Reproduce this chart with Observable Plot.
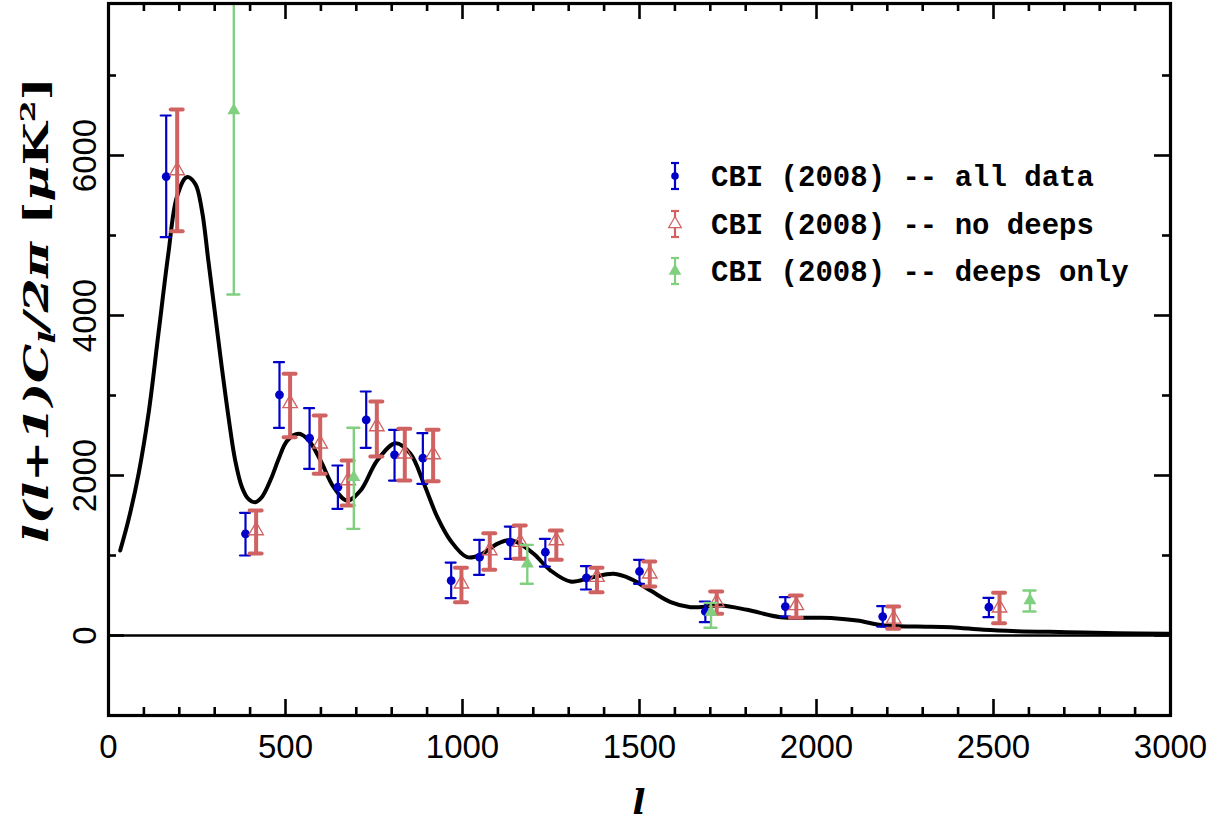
<!DOCTYPE html>
<html><head><meta charset="utf-8">
<script src="https://cdn.jsdelivr.net/npm/d3@7"></script>
<script src="https://cdn.jsdelivr.net/npm/@observablehq/plot@0.6"></script>
<style>body{margin:0;background:#fff;} #chart svg{display:block;}</style>
</head><body><div id="chart"></div>
<script>
// ---- data ----
const allL  = [163,387,483,568,648,728,808,888,968,1048,1135,1234,1350,1500,1686,1912,2187,2487];
const allV  = [5737,1271,3008,2467,1854,2696,2258,2217,687,979,1167,1042,721,800,300,362,237,354];
const allLo = [4979,1000,2596,2083,1583,2346,1937,1896,467,758,958,862,575,646,167,237,112,229];
const allHi = [6500,1534,3417,2842,2125,3050,2571,2529,912,1196,1362,1208,867,946,425,479,367,471];

const nodL  = [194,417,513,598,677,758,837,917,997,1077,1163,1265,1380,1529,1718,1943,2218,2517];
const nodV  = [5812,1312,2900,2396,1937,2612,2271,2262,646,1062,1167,1187,729,771,417,375,208,346];
const nodLo = [5054,1025,2479,2021,1625,2237,1937,1929,417,821,958,946,542,612,271,221,83,154];
const nodHi = [6575,1562,3271,2750,2187,2925,2583,2571,846,1279,1375,1312,846,925,550,500,362,533];

const deepL  = [354,693,1183,1702,2603];
const deepV  = [6562,1979,896,292,437];
const deepLo = [4262,1333,646,96,300];
const deepHi = [8862,2596,1133,408,562];

const curveL = [33,56,85,113,141,169,193,221,245,264,282,301,320,339,358,377,395,414,433,461,480,505,538,566,599,636,674,712,759,811,853,891,929,966,1013,1051,1098,1130,1154,1201,1249,1305,1362,1427,1475,1531,1588,1644,1729,1804,1898,1992,2049,2115,2190,2284,2379,2473,2567,2708,2849,2995];
const curveV = [1062,1437,2021,2771,3771,4771,5479,5729,5646,5312,4687,4021,3354,2729,2187,1854,1708,1667,1729,1979,2200,2437,2521,2437,2187,1854,1687,1812,2187,2404,2271,1896,1479,1187,979,1010,1146,1190,1167,1021,812,675,721,771,708,562,417,354,375,321,229,221,217,187,125,112,104,71,54,42,29,21];

const xTickLabels = [0,500,1000,1500,2000,2500,3000];
const yTickLabels = [0,2000,4000,6000];
const legendLabels = ["CBI (2008) -- all data","CBI (2008) -- no deeps","CBI (2008) -- deeps only"];

// ---- build ----
const build = (L,V,Lo,Hi) => L.map((l,i)=>({l, v:V[i], lo:Lo[i], hi:Hi[i]}));
const all = build(allL,allV,allLo,allHi);
const nod = build(nodL,nodV,nodLo,nodHi);
const deep = build(deepL,deepV,deepLo,deepHi);
const curve = curveL.map((l,i)=>({l, v:curveV[i]}));

const BLUE="#0000c8", RED="#d06262", GREEN="#80d080";
const W=1224, H=822, mL=108, mR=54, mT=3, mB=107;
const xDom=[0,3000], yDom=[-1000,7900];
const xPx=(xDom[1]-xDom[0])/(W-mL-mR), yPx=(yDom[1]-yDom[0])/(H-mT-mB);

const xMajor=d3.range(0,3001,500), xMinor=d3.range(0,3001,100).filter(d=>d%500);
const yMajor=d3.range(0,7901,2000);
const yMinor=d3.range(-1000,7901,1000).filter(d=>d%2000);

function ticks(){
  const m=[], sw=2.6;
  const tb=(arr,len)=>{
    m.push(Plot.ruleX(arr,{x:d=>d,y1:yDom[0],y2:yDom[0]+len*yPx,strokeWidth:sw}));
    m.push(Plot.ruleX(arr,{x:d=>d,y1:yDom[1],y2:yDom[1]-len*yPx,strokeWidth:sw}));
  };
  const lr=(arr,len)=>{
    m.push(Plot.ruleY(arr,{y:d=>d,x1:xDom[0],x2:xDom[0]+len*xPx,strokeWidth:sw}));
    m.push(Plot.ruleY(arr,{y:d=>d,x1:xDom[1],x2:xDom[1]-len*xPx,strokeWidth:sw}));
  };
  tb(xMajor,16); tb(xMinor,8); lr(yMajor,16); lr(yMinor,8);
  return m;
}
function errs(data,color,sw,cap){
  return [
    Plot.ruleX(data,{x:"l",y1:"lo",y2:"hi",stroke:color,strokeWidth:sw,clip:true}),
    Plot.ruleY(data,{y:"hi",x1:d=>d.l-cap*xPx,x2:d=>d.l+cap*xPx,stroke:color,strokeWidth:sw,strokeLinecap:"round",clip:true}),
    Plot.ruleY(data,{y:"lo",x1:d=>d.l-cap*xPx,x2:d=>d.l+cap*xPx,stroke:color,strokeWidth:sw,strokeLinecap:"round",clip:true})
  ];
}

const plot = Plot.plot({
  width:W, height:H, marginLeft:mL, marginRight:mR, marginTop:mT, marginBottom:mB,
  x:{domain:xDom, axis:null}, y:{domain:yDom, axis:null},
  style:{background:"white", fontFamily:"Liberation Sans"},
  marks:[
    Plot.ruleY([0],{stroke:"black",strokeWidth:2.6}),
    Plot.line(curve,{x:"l",y:"v",curve:"catmull-rom",stroke:"black",strokeWidth:4}),
    ...errs(all,BLUE,2.2,5),
    Plot.dot(all,{x:"l",y:"v",r:4.4,fill:BLUE,stroke:"none"}),
    ...errs(nod,RED,4,6),
    Plot.dot(nod,{x:"l",y:"v",symbol:"triangle",r:5.4,stroke:RED,strokeWidth:1.3,fill:"none"}),
    ...errs(deep,GREEN,2.4,6),
    Plot.dot(deep,{x:"l",y:"v",symbol:"triangle",r:4.8,fill:GREEN,stroke:"none",clip:true}),
    ...ticks(),
    Plot.frame({stroke:"black",strokeWidth:3.2}),
    Plot.text(xTickLabels,{x:d=>d,y:yDom[0],dy:32,text:d=>String(d),fontSize:33,fill:"black",lineAnchor:"middle"}),
    Plot.text(yTickLabels,{x:xDom[0],y:d=>d,dx:-23,rotate:-90,text:d=>String(d),fontSize:33,fill:"black",lineAnchor:"middle"})
  ]
});
document.getElementById("chart").appendChild(plot);

// ---- legend & axis titles ----
const svg = d3.select(plot);
const leg = svg.append("g");
const rowsY=[176,224,271], symX=675, textX=711;
const colors=[BLUE,RED,GREEN];
legendLabels.forEach((lab,i)=>{
  const y=rowsY[i], c=colors[i], sw=2.2;
  leg.append("line").attr("x1",symX).attr("x2",symX).attr("y1",y-13).attr("y2",y+13).attr("stroke",c).attr("stroke-width",sw);
  [y-13,y+13].forEach(yy=>leg.append("line").attr("x1",symX-4).attr("x2",symX+4).attr("y1",yy).attr("y2",yy).attr("stroke",c).attr("stroke-width",sw));
  if(i===0) leg.append("circle").attr("cx",symX).attr("cy",y).attr("r",3.8).attr("fill",c);
  else leg.append("path").attr("d",d3.symbol(d3.symbolTriangle,70)()).attr("transform",`translate(${symX},${y})`)
    .attr("fill",i===2?c:"white").attr("stroke",i===2?"none":c).attr("stroke-width",1.2);
  leg.append("text").attr("x",textX).attr("y",y).attr("dy","0.36em").attr("text-anchor","start")
    .attr("font-family","Liberation Mono").attr("font-weight","bold").attr("font-size",29).attr("fill","black").text(lab);
});

// x title
svg.append("text").attr("x",639).attr("y",814).attr("text-anchor","middle").attr("font-family","DejaVu Serif")
  .attr("font-style","italic").attr("font-weight","bold").attr("font-size",34).attr("fill","black").text("l");

// y title
const yt = svg.append("text").attr("transform","translate(48,310) rotate(-90)").attr("text-anchor","middle")
  .attr("font-family","DejaVu Serif").attr("font-weight","bold").attr("font-size",33).attr("fill","black")
  .attr("textLength",466).attr("lengthAdjust","spacingAndGlyphs");
yt.append("tspan").attr("font-style","italic").text("l(l+1)C");
yt.append("tspan").attr("font-style","italic").attr("font-size",23).attr("dy",7).text("l");
yt.append("tspan").attr("font-style","italic").attr("dy",-7).text("/2π ");
yt.append("tspan").text("[");
yt.append("tspan").attr("font-style","italic").text("μ");
yt.append("tspan").text("K");
yt.append("tspan").attr("font-size",21).attr("dy",-13).text("2");
yt.append("tspan").attr("dy",13).text("]");
</script></body></html>
